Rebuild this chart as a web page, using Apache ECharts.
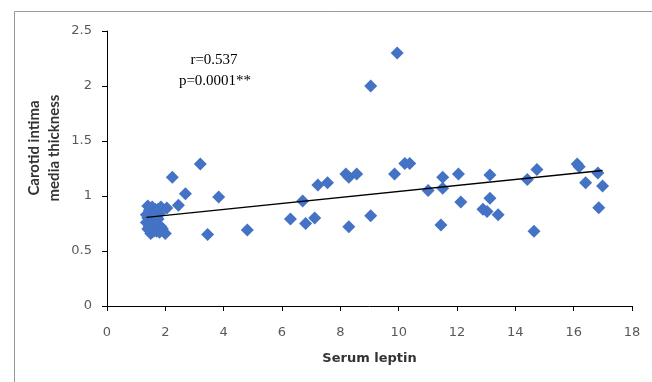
<!DOCTYPE html>
<html><head><meta charset="utf-8">
<script src="https://cdn.jsdelivr.net/npm/echarts@6/dist/echarts.min.js"></script>
<style>html,body{margin:0;padding:0;background:#fff}#c{width:652px;height:382px}</style>
</head><body><div id="c"></div>
<script>
// Serum leptin (x) and carotid intima media thickness (y)
var leptin = [
  1.40,1.45,1.40,1.50,1.50,1.55,1.60,1.65,1.70,1.75,1.85,1.60,1.50,1.55,1.45,1.70,1.65,1.80,1.90,1.35,1.80,1.60,
  1.45,1.55,1.65,1.75,1.60,1.50,1.35,1.70,1.85,1.40,1.55,1.65,1.45,1.75,
  2.00,2.05,2.24,2.69,2.45,3.20,3.83,3.45,4.81,
  6.29,6.71,6.81,7.12,7.23,7.56,8.19,8.29,8.56,8.29,9.04,9.04,9.95,9.86,10.21,10.38,
  11.01,11.51,11.51,11.45,12.05,12.13,12.89,13.03,13.13,13.13,13.41,14.41,14.74,14.64,
  16.12,16.19,16.41,16.83,16.86,16.99
];
var cimt = [
  0.80,0.75,0.70,0.66,0.85,0.90,0.78,0.72,0.68,0.88,0.90,0.83,0.78,0.70,0.82,0.80,0.88,0.67,0.70,0.76,0.84,0.68,
  0.87,0.82,0.76,0.74,0.70,0.73,0.83,0.85,0.72,0.91,0.75,0.81,0.72,0.79,
  0.66,0.89,1.17,1.02,0.915,1.29,0.99,0.65,0.69,
  0.79,0.954,0.75,0.80,1.10,1.12,1.20,1.17,1.20,0.72,0.82,2.00,2.30,1.20,1.295,1.295,
  1.05,1.17,1.07,0.737,1.20,0.945,0.88,0.86,0.98,1.19,0.83,1.15,1.24,0.68,
  1.29,1.265,1.12,1.21,0.894,1.09
];
// linear trend line endpoints
var trendX = [1.35, 16.99];
var trendY = [0.805, 1.232];
var yTitle = ['Carotid intima', 'media thickness'];
var xTitle = 'Serum leptin';
var stats = ['r=0.537', 'p=0.0001**'];

var pts = leptin.map(function(x,i){return [x, cimt[i]];});
var trend = trendX.map(function(x,i){return [x, trendY[i]];});

var chart = echarts.init(document.getElementById('c'));
chart.setOption({
  animation:false,
  backgroundColor:'#fff',
  grid:{left:107,right:20,top:31,bottom:76},
  xAxis:{type:'value',min:0,max:18,interval:2,
    name:xTitle,nameLocation:'middle',nameGap:46,
    nameTextStyle:{fontFamily:'DejaVu Sans',fontWeight:'bold',fontSize:13,color:'#333'},
    axisLine:{lineStyle:{color:'#000',width:1}},
    axisTick:{show:true,length:5,lineStyle:{color:'#000'}},
    axisLabel:{color:'#595959',fontFamily:'DejaVu Sans',fontSize:13,margin:20},
    splitLine:{show:false}},
  yAxis:{type:'value',min:0,max:2.5,interval:0.5,
    axisLine:{show:true,lineStyle:{color:'#000',width:1}},
    axisTick:{show:true,length:5,lineStyle:{color:'#000'}},
    axisLabel:{color:'#595959',fontFamily:'DejaVu Sans',fontSize:13,margin:15},
    splitLine:{show:false}},
  graphic:[
    {type:'rect',left:12,top:9,shape:{width:700,height:420},style:{fill:'none',stroke:'#999',lineWidth:1},silent:true,z:-1},
    {type:'text',x:34,y:148,rotation:Math.PI/2,style:{text:yTitle[0],font:'bold 15px Lato',fill:'#333',align:'center',verticalAlign:'middle'}},
    {type:'text',x:54,y:148,rotation:Math.PI/2,style:{text:yTitle[1],font:'bold 15px Lato',fill:'#333',align:'center',verticalAlign:'middle'}},
    {type:'text',x:214,y:60,style:{text:stats[0],font:'15px "Liberation Serif"',fill:'#000',align:'center',verticalAlign:'middle'}},
    {type:'text',x:215,y:81,style:{text:stats[1],font:'15px "Liberation Serif"',fill:'#000',align:'center',verticalAlign:'middle'}}
  ],
  series:[
    {type:'scatter',data:pts,symbol:'diamond',symbolSize:13,
      itemStyle:{color:'#4472C4',opacity:1},z:3},
    {type:'line',data:trend,symbol:'none',lineStyle:{color:'#000',width:1.3},z:4}
  ]
});
</script></body></html>
